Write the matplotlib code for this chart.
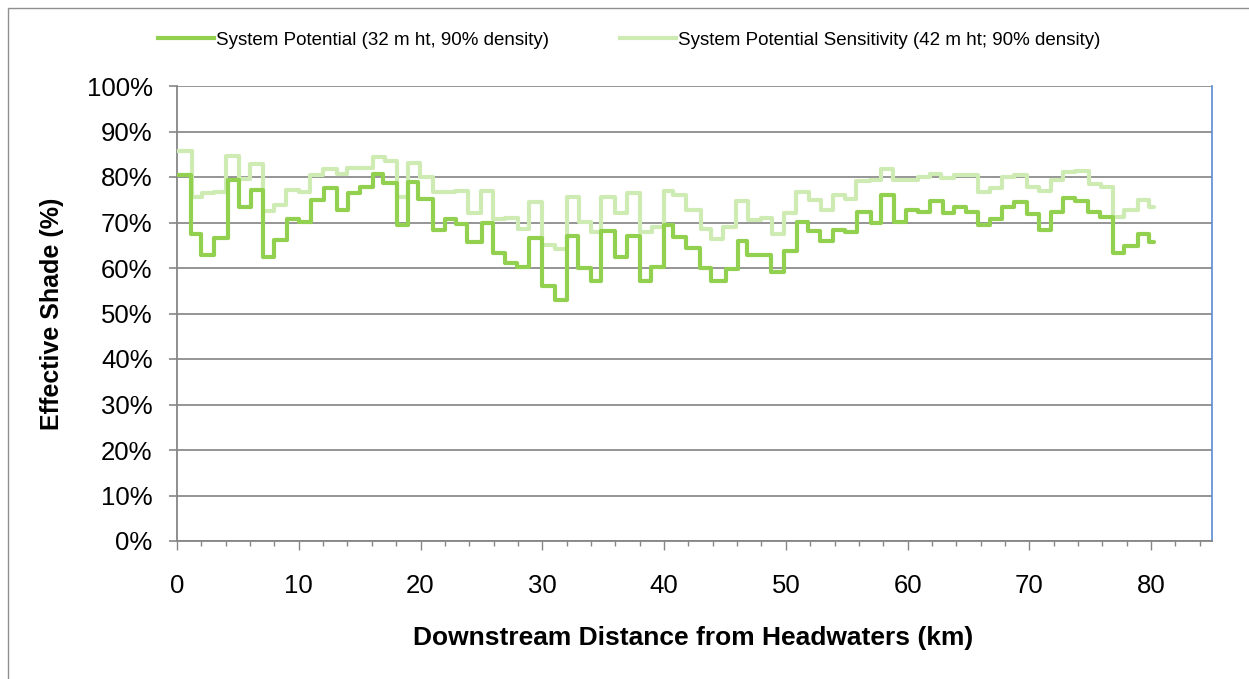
import numpy as np
import matplotlib.pyplot as plt
from matplotlib.patches import Rectangle
from matplotlib.ticker import MultipleLocator, FuncFormatter

plt.rcParams['font.family'] = ['Liberation Sans', 'DejaVu Sans']

# step edges (km) and effective shade (%)
sp_edges = [0, 1.18, 2.0, 3.0, 4.18, 5.06, 6.1, 7.1, 7.93, 9.02,
            9.98, 11.02, 12.11, 13.13, 14.08, 15.04, 16.08, 16.95, 18.05, 19.0,
            19.82, 21.0, 22.0, 22.91, 23.84, 25.02, 25.98, 26.93, 27.89, 28.9,
            29.94, 31.03, 31.99, 32.95, 33.99, 34.86, 35.96, 36.99, 38.0, 38.91,
            40.0, 40.74, 41.83, 42.93, 43.89, 45.06, 46.07, 46.8, 48.81, 49.82,
            50.92, 51.82, 52.83, 53.87, 54.83, 55.86, 56.96, 57.83, 58.87, 59.88,
            60.84, 61.8, 62.89, 63.79, 64.8, 65.81, 66.8, 67.76, 68.77, 69.78,
            70.82, 71.78, 72.74, 73.77, 74.78, 75.8, 76.84, 77.79, 78.89, 79.85,
            80.25]
sp_shade = [80.4, 67.4, 62.9, 66.5, 79.4, 73.3, 77.2, 62.5, 66.2, 70.8,
            70.2, 74.9, 77.6, 72.8, 76.5, 77.7, 80.7, 78.7, 69.5, 78.9,
            75.2, 68.4, 70.8, 69.6, 65.7, 69.9, 63.2, 61.0, 60.3, 66.5,
            56.1, 52.9, 67.1, 60.1, 57.1, 68.2, 62.5, 67.1, 57.1, 60.3,
            69.5, 66.9, 64.5, 59.9, 57.1, 59.8, 66.0, 62.9, 59.2, 63.8,
            70.2, 68.2, 66.0, 68.4, 67.9, 72.3, 69.9, 76.1, 70.2, 72.8,
            72.3, 74.8, 72.1, 73.5, 72.3, 69.5, 70.8, 73.5, 74.5, 71.8,
            68.4, 72.3, 75.4, 74.8, 72.4, 71.3, 63.2, 64.9, 67.4, 65.8]

sens_edges = [0, 1.2, 2.05, 3.0, 4.05, 5.06, 6.02, 7.1, 7.93, 8.94,
              9.98, 10.94, 12.03, 13.13, 13.95, 16.08, 17.09, 18.05, 19.0, 19.96,
              21.0, 22.83, 23.93, 24.94, 25.98, 26.93, 27.97, 28.9, 29.94, 31.03,
              31.99, 33.0, 33.99, 34.86, 35.96, 36.99, 38.0, 38.97, 40.0, 40.74,
              41.83, 43.06, 43.89, 44.84, 45.93, 46.89, 47.99, 48.89, 49.82, 50.86,
              51.9, 52.91, 53.87, 54.83, 55.78, 56.88, 57.83, 58.79, 60.84, 61.8,
              62.76, 63.85, 65.76, 66.8, 67.76, 68.77, 69.78, 70.82, 71.78, 72.74,
              73.77, 74.86, 75.88, 76.84, 77.79, 78.89, 79.85, 80.25]
sens_shade = [85.7, 75.5, 76.5, 76.8, 84.6, 79.6, 82.9, 72.6, 73.8, 77.2,
              76.7, 80.4, 81.8, 80.7, 82.0, 84.3, 83.6, 75.5, 83.1, 80.1,
              76.7, 77.0, 72.1, 77.0, 70.8, 71.0, 68.6, 74.5, 65.1, 64.2,
              75.7, 70.2, 68.0, 75.7, 72.1, 76.5, 68.0, 69.1, 77.0, 76.0,
              72.8, 68.6, 66.4, 69.1, 74.8, 70.6, 71.0, 67.4, 72.1, 76.8,
              75.0, 72.8, 76.0, 75.2, 79.2, 79.4, 81.8, 79.4, 80.1, 80.7,
              79.8, 80.5, 76.7, 77.5, 79.9, 80.4, 77.7, 77.0, 79.4, 81.1,
              81.4, 78.5, 77.9, 71.3, 72.8, 75.0, 73.3]

sp_label = 'System Potential (32 m ht, 90% density)'
sens_label = 'System Potential Sensitivity (42 m ht; 90% density)'

W, H = 1249, 679
fig = plt.figure(figsize=(W / 100, H / 100), dpi=100)
fig.patches.append(Rectangle((8 / W, -0.01), 1.0, 1 - 8 / H + 0.01,
                             transform=fig.transFigure, fill=False,
                             edgecolor='#8f8f8f', lw=1.0))

ax = fig.add_axes([177 / W, 1 - 541 / H, (1212 - 177) / W, (541 - 86) / H])

s2 = ax.stairs(sens_shade, sens_edges, baseline=None, color='#CDEBB3', lw=3.0,
               label=sens_label, zorder=3)
s1 = ax.stairs(sp_shade, sp_edges, baseline=None, color='#92D050', lw=3.0,
               label=sp_label, zorder=4)
for s in (s1, s2):
    s.set_capstyle('round')
    s.set_joinstyle('round')

ax.set_xlim(0, 85)
ax.set_ylim(0, 100)
ax.xaxis.set_minor_locator(MultipleLocator(2))
ax.yaxis.set_major_locator(MultipleLocator(10))
ax.yaxis.set_major_formatter(FuncFormatter(lambda v, p: f'{v:.0f}%'))
ax.set_xticks([0, 10, 20, 30, 40, 50, 60, 70, 80])

ax.grid(axis='y', color='#8c8c8c', lw=1.3, zorder=1)
ax.set_axisbelow(True)

ax.spines['top'].set_visible(False)
ax.spines['right'].set_color('#5b8bd0')
ax.spines['right'].set_linewidth(1.2)
for side in ('left', 'bottom'):
    ax.spines[side].set_color('#868686')
    ax.spines[side].set_linewidth(1.3)

ax.tick_params(axis='x', which='major', direction='out', length=6.5, width=1,
               color='#868686', labelsize=18.5, pad=17)
ax.tick_params(axis='x', which='minor', direction='out', length=3.5, width=1,
               color='#868686')
ax.tick_params(axis='y', direction='out', length=5.5, width=1.2,
               color='#868686', labelsize=18.5, pad=12)

fig.text(52 / W, 1 - 314 / H, 'Effective Shade (%)', rotation=90, ha='center',
         va='center', fontsize=18, fontweight='bold')
fig.text(693 / W, 1 - 638 / H, 'Downstream Distance from Headwaters (km)',
         ha='center', va='center', fontsize=19, fontweight='bold')

fig.legend(handles=[s1, s2], loc='center', bbox_to_anchor=(629 / W, 1 - 40 / H),
           ncol=2, frameon=False, fontsize=13.5, handlelength=3.0,
           handletextpad=0.1, columnspacing=3.8)

fig.savefig('out.png', dpi=100)
